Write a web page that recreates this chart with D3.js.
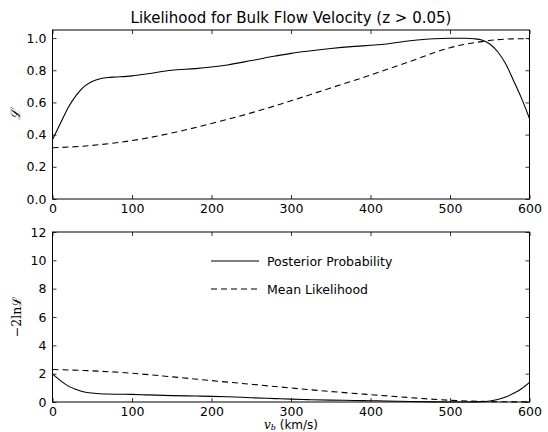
<!DOCTYPE html>
<html><head><meta charset="utf-8">
<script src="https://cdn.jsdelivr.net/npm/d3@7"></script>
<style>
html,body{margin:0;padding:0;background:#fff;}
svg{display:block;font-family:"DejaVu Sans",sans-serif;}
</style></head>
<body>
<svg id="c" width="548" height="432"></svg>
<script>
const velocity = [0,10,20,30,40,50,60,70,80,100,120,150,180,200,220,250,280,300,320,350,380,400,420,450,480,500,520,530,540,550,560,570,580,590,600];
const posterior = [0.37,0.47,0.57,0.645,0.70,0.73,0.747,0.755,0.758,0.765,0.778,0.80,0.81,0.82,0.833,0.86,0.888,0.905,0.918,0.935,0.948,0.955,0.963,0.983,0.996,0.999,0.999,0.996,0.988,0.963,0.915,0.84,0.735,0.625,0.50];
const meanVelocity = [0,50,100,150,200,250,300,350,400,450,500,540,560,580,600];
const meanLikelihood = [0.318,0.333,0.363,0.41,0.469,0.535,0.61,0.69,0.77,0.855,0.94,0.978,0.99,0.995,0.996];
const posteriorChi2 = [1.99,1.51,1.12,0.88,0.71,0.63,0.58,0.56,0.55,0.54,0.50,0.45,0.42,0.40,0.37,0.30,0.24,0.20,0.17,0.13,0.11,0.09,0.075,0.034,0.008,0.002,0.002,0.008,0.024,0.075,0.178,0.35,0.615,0.94,1.39];
const meanChi2 = [2.29,2.20,2.03,1.78,1.51,1.25,0.99,0.74,0.52,0.31,0.12,0.044,0.02,0.01,0.008];
const xTicks = [0,100,200,300,400,500,600];
const topYTicks = [0.0,0.2,0.4,0.6,0.8,1.0];
const botYTicks = [0,2,4,6,8,10,12];
const legendLabels = ["Posterior Probability","Mean Likelihood"];
const titleText = "Likelihood for Bulk Flow Velocity (z > 0.05)";

const svg = d3.select("#c");
const L = 52.5, R = 529.5;
const x = d3.scaleLinear().domain([0,600]).range([L,R]);
const yTop = d3.scaleLinear().domain([0,1.05]).range([199,30]);
const yBot = d3.scaleLinear().domain([0,12]).range([402,232]);

function panel(y, yTicks, fmt){
  const g = svg.append("g");
  const [y0,y1] = y.range();
  const tl = 4;
  const axB = d3.axisBottom(x).tickValues(xTicks).tickSizeInner(-tl).tickSizeOuter(0).tickPadding(5).tickFormat(d3.format("d"));
  const gb = g.append("g").attr("transform",`translate(0,${y0})`).call(axB);
  const axT = d3.axisTop(x).tickValues(xTicks).tickSizeInner(-tl).tickSizeOuter(0).tickFormat("");
  const gt = g.append("g").attr("transform",`translate(0,${y1})`).call(axT);
  const axL = d3.axisLeft(y).tickValues(yTicks).tickSizeInner(-tl).tickSizeOuter(0).tickPadding(6).tickFormat(fmt);
  const gl = g.append("g").attr("transform",`translate(${L},0)`).call(axL);
  const axR = d3.axisRight(y).tickValues(yTicks).tickSizeInner(-tl).tickSizeOuter(0).tickFormat("");
  const gr = g.append("g").attr("transform",`translate(${R},0)`).call(axR);
  [gb,gt,gl,gr].forEach(a=>{
    a.select(".domain").remove();
    a.selectAll("line").attr("stroke","#000").attr("stroke-width",0.8);
    a.selectAll("text").attr("font-family","DejaVu Sans").attr("font-size",12.5).attr("fill","#000");
  });
  g.append("rect").attr("x",L).attr("y",y1).attr("width",R-L).attr("height",y0-y1)
    .attr("fill","none").attr("stroke","#000").attr("stroke-width",1);
  return g;
}

panel(yTop, topYTicks, d3.format(".1f"));
panel(yBot, botYTicks, d3.format("d"));

const line = (xs, ys, y) => d3.line().x((d,i)=>x(xs[i])).y(d=>y(d)).curve(d3.curveMonotoneX)(ys);

svg.append("path").attr("d", line(velocity, posterior, yTop)).attr("fill","none").attr("stroke","#000").attr("stroke-width",1.1);
svg.append("path").attr("d", line(meanVelocity, meanLikelihood, yTop)).attr("fill","none").attr("stroke","#000").attr("stroke-width",1.1).attr("stroke-dasharray","6,4");
svg.append("path").attr("d", line(velocity, posteriorChi2, yBot)).attr("fill","none").attr("stroke","#000").attr("stroke-width",1.1);
svg.append("path").attr("d", line(meanVelocity, meanChi2, yBot)).attr("fill","none").attr("stroke","#000").attr("stroke-width",1.1).attr("stroke-dasharray","6,4");

// title
svg.append("text").attr("x",(L+R)/2).attr("y",23).attr("text-anchor","middle")
  .attr("font-size",15).attr("fill","#000").text(titleText);

// y labels
svg.append("text").attr("transform",`translate(20,${(30+199)/2}) rotate(-90)`).attr("text-anchor","middle")
  .attr("font-family","DejaVu Serif").attr("font-style","italic").attr("font-size",13).text("ℒ");
svg.append("text").attr("transform",`translate(21,${(232+402)/2}) rotate(-90)`).attr("text-anchor","middle")
  .attr("font-family","DejaVu Serif").attr("font-size",12.5).text("−2lnℒ");

// x label
const xl = svg.append("text").attr("x",(L+R)/2).attr("y",428.5).attr("text-anchor","middle").attr("font-size",12);
xl.append("tspan").attr("font-family","DejaVu Serif").attr("font-style","italic").text("v");
xl.append("tspan").attr("font-family","DejaVu Serif").attr("font-style","italic").attr("font-size",8).attr("dy",1.5).text("b");
xl.append("tspan").attr("dy",-1.5).text(" (km/s)");

// legend
const lg = svg.append("g");
legendLabels.forEach((t,i)=>{
  const yy = 261 + i*28;
  lg.append("line").attr("x1",211).attr("x2",259).attr("y1",yy).attr("y2",yy)
    .attr("stroke","#000").attr("stroke-width",1.1).attr("stroke-dasharray", i===1?"6,4":null);
  lg.append("text").attr("x",267).attr("y",yy+4.5).attr("font-size",12.5).text(t);
});
</script>
</body></html>
